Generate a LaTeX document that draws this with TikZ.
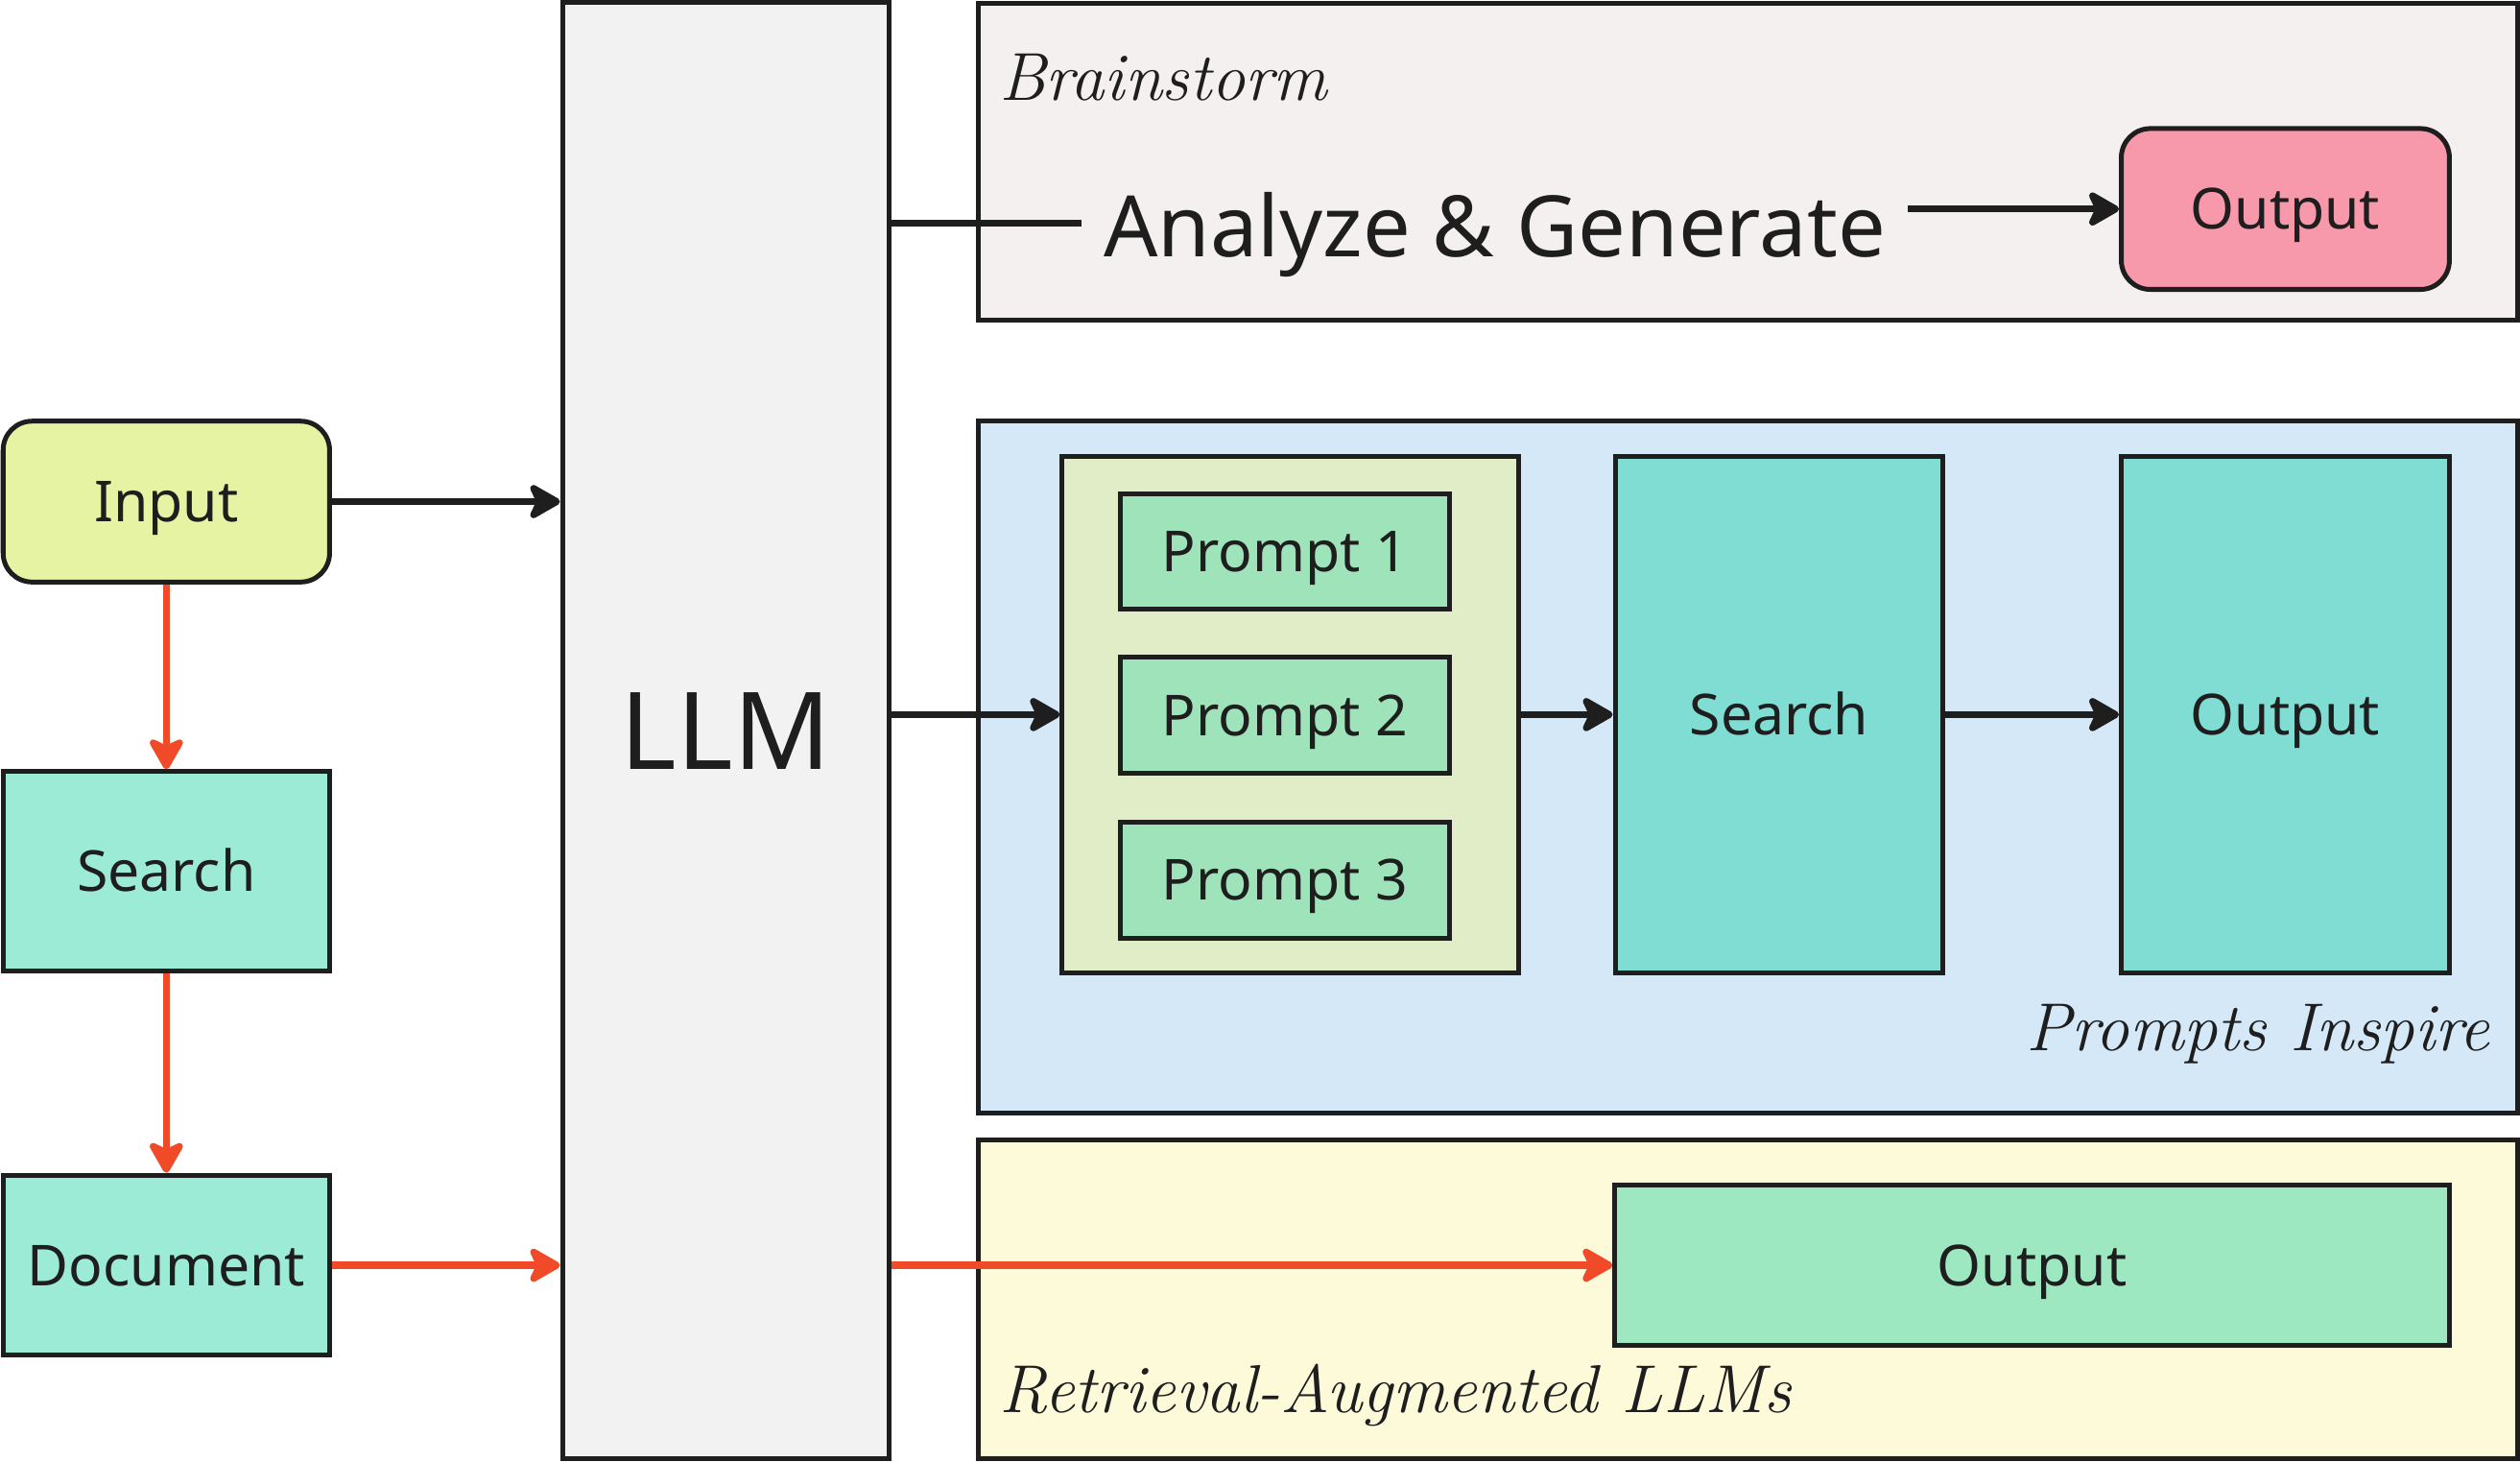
\documentclass[tikz,border=0pt]{standalone}
\usepackage{fontspec}
\setsansfont{Noto Sans}
\usepackage{tikz}
\usetikzlibrary{arrows.meta}

\definecolor{linecol}{HTML}{1E1E1E}
\definecolor{redcol}{HTML}{F04A28}
\definecolor{inputcol}{HTML}{E6F3A2}
\definecolor{mintcol}{HTML}{9BEBD6}
\definecolor{llmcol}{HTML}{F2F2F2}
\definecolor{braincol}{HTML}{F5F0F0}
\definecolor{bluecol}{HTML}{D5E8F8}
\definecolor{yellowcol}{HTML}{FDFADA}
\definecolor{groupcol}{HTML}{E1EDC6}
\definecolor{promptcol}{HTML}{9EE3B9}
\definecolor{tealcol}{HTML}{80DDD3}
\definecolor{pinkcol}{HTML}{F898AB}
\definecolor{greencol}{HTML}{9EE8C1}

\tikzset{
  box/.style={draw=linecol, line width=0.85pt, inner sep=0pt, text=linecol,
    text height=7.14pt, text depth=0pt,
    font=\sffamily\fontsize{10}{12}\selectfont},
  arr/.style={-{Stealth[length=0.23cm,width=0.26cm,inset=0.06cm,round]}, line width=1.2pt, draw=linecol},
  redarr/.style={arr, draw=redcol},
  hand/.style={text=linecol, inner sep=0pt, font=\rmfamily\itshape\fontsize{12}{14}\selectfont},
}

\begin{document}
\begin{tikzpicture}[x=0.01cm,y=-0.01cm]
  \useasboundingbox (0,0) rectangle (1568,909);
  \node[box, fill=braincol, minimum width=9.57cm, minimum height=1.97cm] (brain) at (1087.5,100.5) {};
  \node[box, fill=bluecol, minimum width=9.57cm, minimum height=4.30cm] (inspire) at (1087.5,477) {};
  \node[box, fill=yellowcol, minimum width=9.57cm, minimum height=1.98cm] (rag) at (1087.5,808) {};
  \node[hand, anchor=west] (brainlabel) at (621,48) {Brainstorm};
  \node[hand, anchor=east] (inspirelabel) at (1550,643) {Prompts Inspire};
  \node[hand, anchor=west] (raglabel) at (621,868) {Retrieval-Augmented LLMs};

  \node[box, fill=inputcol, rounded corners=0.18cm, minimum width=2.03cm, minimum height=1.0cm] (input) at (103.5,312) {Input};
  \node[box, fill=mintcol, minimum width=2.03cm, minimum height=1.24cm] (search) at (103.5,542) {Search};
  \node[box, fill=mintcol, minimum width=2.03cm, minimum height=1.12cm] (doc) at (103.5,787) {Document};
  \node[box, fill=llmcol, minimum width=2.03cm, minimum height=9.05cm, text height=13.6pt,
    font=\sffamily\fontsize{19}{22}\selectfont] (llm) at (451.5,454.5) {LLM};

  \node[text=linecol, inner sep=0.13cm, text height=10.7pt, text depth=0pt,
    font=\sffamily\fontsize{15}{18}\selectfont] (ag) at (930,141) {Analyze \& Generate};
  \node[box, fill=pinkcol, rounded corners=0.18cm, minimum width=2.04cm, minimum height=1.0cm] (out1) at (1422,130) {Output};

  \node[box, fill=groupcol, minimum width=2.84cm, minimum height=3.21cm] (group) at (803,444.5) {};
  \node[box, fill=promptcol, minimum width=2.05cm, minimum height=0.72cm] (p1) at (799.5,343) {Prompt 1};
  \node[box, fill=promptcol, minimum width=2.05cm, minimum height=0.72cm] (p2) at (799.5,445) {Prompt 2};
  \node[box, fill=promptcol, minimum width=2.05cm, minimum height=0.72cm] (p3) at (799.5,547.5) {Prompt 3};
  \node[box, fill=tealcol, minimum width=2.04cm, minimum height=3.21cm] (search2) at (1107,444.5) {Search};
  \node[box, fill=tealcol, minimum width=2.04cm, minimum height=3.21cm] (out2) at (1422,444.5) {Output};
  \node[box, fill=greencol, minimum width=5.19cm, minimum height=1.0cm] (out3) at (1264.5,787) {Output};

  \draw[arr] (input.east) -- (input -| llm.west);
  \draw[redarr] (input.south) -- (search.north);
  \draw[redarr] (search.south) -- (doc.north);
  \draw[redarr] (doc.east) -- (doc -| llm.west);
  \draw[redarr] (llm.east |- out3) -- (out3.west);
  \draw[line width=1.2pt, draw=linecol] (llm.east |- 0,139) -- (ag.west |- 0,139);
  \draw[arr] (ag.east |- out1) -- (out1.west);
  \draw[arr] (llm.east |- group) -- (group.west);
  \draw[arr] (group.east) -- (search2.west);
  \draw[arr] (search2.east) -- (out2.west);
\end{tikzpicture}
\end{document}
